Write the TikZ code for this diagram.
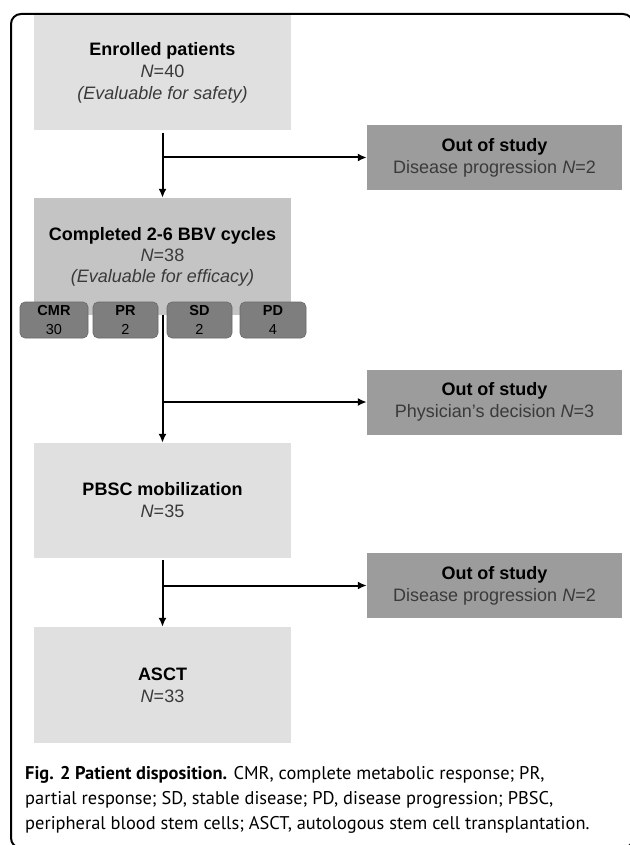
\documentclass[tikz,border=0pt]{standalone}
\usepackage{fontspec}
\setmainfont{Liberation Sans}
\newfontfamily\capfont{PT Sans}
\usetikzlibrary{arrows.meta}
\definecolor{lightbox}{HTML}{E0E0E0}
\definecolor{midbox}{HTML}{C4C4C4}
\definecolor{oosbox}{HTML}{9C9C9C}
\definecolor{smallbox}{HTML}{7E7E7E}
\definecolor{smalledge}{HTML}{6A6A6A}
\definecolor{txtgray}{HTML}{3A3A3A}
\tikzset{
  mainbox/.style={fill=lightbox, draw=none, minimum width=257pt, inner sep=0pt, align=center,
    font=\fontsize{18}{22}\selectfont},
  oos/.style={fill=oosbox, draw=none, minimum width=255pt, minimum height=65pt, inner sep=0pt, align=center,
    font=\fontsize{18}{22}\selectfont},
  resp/.style={fill=smallbox, draw=smalledge, line width=0.6pt, rounded corners=5pt, minimum height=36pt,
    inner sep=0pt, align=center, font=\fontsize{14.5}{19}\selectfont},
  arr/.style={line width=2pt, -{Latex[length=9pt,width=8pt]}},
  capline/.style={anchor=base west, inner sep=0pt, font=\capfont\fontsize{18.4}{25}\selectfont}
}
\begin{document}
\begin{tikzpicture}[x=1pt,y=-1pt]
\useasboundingbox (0,0) rectangle (629,845);
\fill[white] (0,0) rectangle (629,845);
% frame
\draw[line width=2pt, rounded corners=10pt] (11,14) rectangle (633,848);
% main boxes
\node[mainbox, minimum height=115pt] (enr) at (162.5,73)
  {\textbf{Enrolled patients}\\ \color{txtgray}\textit{N}=40\\ \color{txtgray}\textit{(Evaluable for safety)}};
\node[mainbox, fill=midbox, minimum height=117pt] (comp) at (162.5,256.5)
  {\textbf{Completed 2-6 BBV cycles}\\[-1pt] \color{txtgray}\textit{N}=38\\[-1pt] \color{txtgray}\textit{(Evaluable for efficacy)}};
\node[mainbox, minimum height=115pt] (pbsc) at (162.5,500.5)
  {\textbf{PBSC mobilization}\\ \color{txtgray}\textit{N}=35};
\node[mainbox, minimum height=116pt] (asct) at (162.5,685)
  {\textbf{ASCT}\\ \color{txtgray}\textit{N}=33};
% response boxes
\node[resp, minimum width=68pt] (cmr) at (54,320) {\textbf{CMR}\\30};
\node[resp, minimum width=65pt] (pr) at (125.5,320) {\textbf{PR}\\2};
\node[resp, minimum width=65pt] (sd) at (199.5,320) {\textbf{SD}\\2};
\node[resp, minimum width=66pt] (pd) at (273,320) {\textbf{PD}\\4};
% out of study boxes
\node[oos] (oos1) at (494.5,157.5) {\textbf{Out of study}\\ \color{txtgray}Disease progression \textit{N}=2};
\node[oos] (oos2) at (494.5,402) {\textbf{Out of study}\\ \color{txtgray}Physician's decision \textit{N}=3};
\node[oos] (oos3) at (494.5,585.5) {\textbf{Out of study}\\ \color{txtgray}Disease progression \textit{N}=2};
% connectors
\draw[arr] ([yshift=-2pt]enr.south) -- (comp.north);
\draw[arr] (enr.south |- oos1.west) -- (oos1.west);
\draw[arr] (comp.south) -- (pbsc.north);
\draw[arr] (comp.south |- oos2.west) -- (oos2.west);
\draw[arr] ([yshift=-2pt]pbsc.south) -- (asct.north);
\draw[arr] (pbsc.south |- oos3.west) -- (oos3.west);
% caption
\node[capline] (cap1) at (25,779) {\textbf{Fig. 2 Patient disposition.} CMR, complete metabolic response; PR,};
\node[capline] (cap2) at (25,804) {partial response; SD, stable disease; PD, disease progression; PBSC,};
\node[capline] (cap3) at (25,829) {peripheral blood stem cells; ASCT, autologous stem cell transplantation.};
\end{tikzpicture}
\end{document}
